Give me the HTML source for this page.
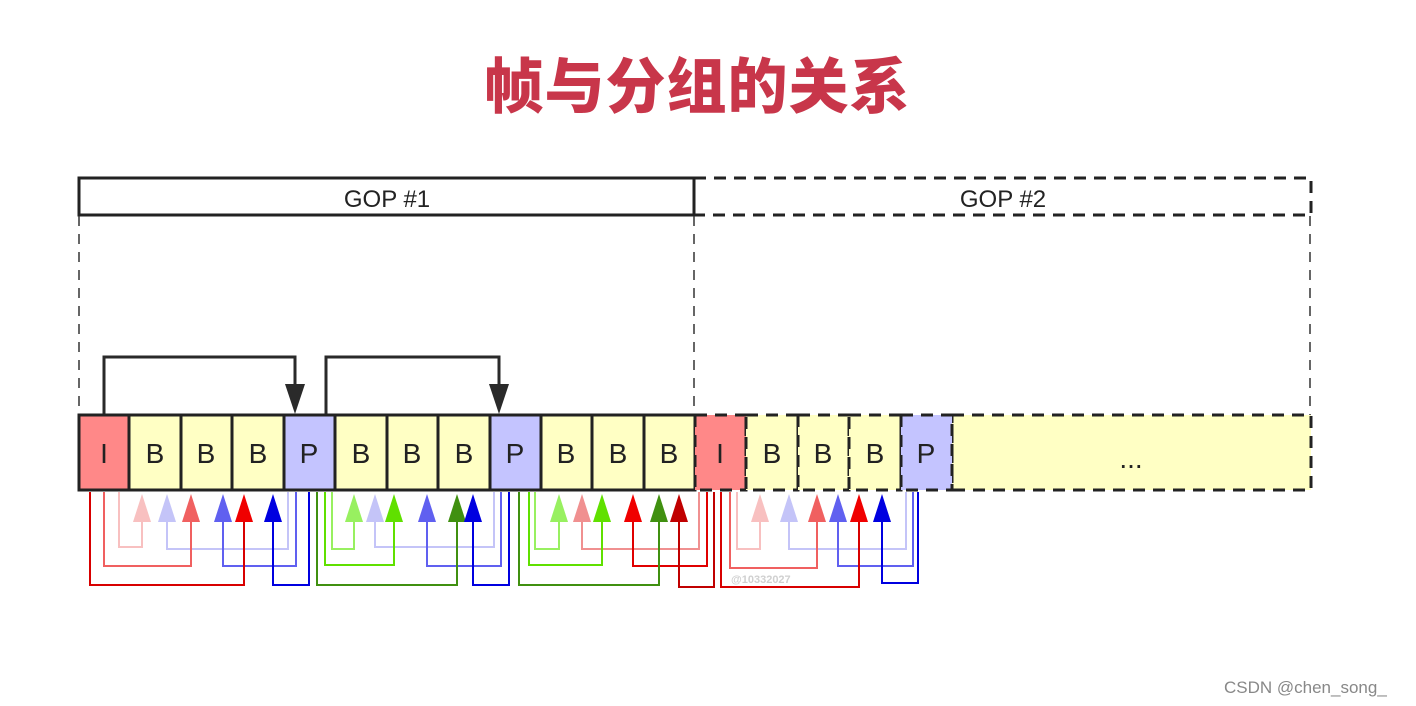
<!DOCTYPE html>
<html><head><meta charset="utf-8"><style>
html,body{margin:0;padding:0;background:#fff;}
body{width:1416px;height:706px;overflow:hidden;position:relative;}
</style></head><body>
<svg width="1416" height="706" viewBox="0 0 1416 706" xmlns="http://www.w3.org/2000/svg" style="position:absolute;left:0;top:0">
<text x="697" y="108" text-anchor="middle" font-family="'Liberation Sans','Noto Sans CJK SC',sans-serif" font-weight="900" font-size="60" fill="#c8364a" letter-spacing="1">帧与分组的关系</text>

<!-- GOP boxes -->
<rect x="79" y="178" width="615" height="37" fill="#fff" stroke="#222" stroke-width="3"/>
<text x="387" y="207" text-anchor="middle" font-family="'Liberation Sans',sans-serif" font-size="24" fill="#222">GOP #1</text>
<rect x="694" y="178" width="617" height="37" fill="none" stroke="#222" stroke-width="3" stroke-dasharray="12,8"/>
<text x="1003" y="207" text-anchor="middle" font-family="'Liberation Sans',sans-serif" font-size="24" fill="#222">GOP #2</text>
<g stroke="#333" stroke-width="1.5" stroke-dasharray="10,8">
<line x1="79" y1="216" x2="79" y2="415"/>
<line x1="694" y1="216" x2="694" y2="415"/>
<line x1="1310" y1="216" x2="1310" y2="415"/>
</g>

<!-- top arrows -->
<g stroke="#2a2a2a" stroke-width="3" fill="none">
<polyline points="104,415 104,357 295,357 295,388"/>
<polyline points="326,415 326,357 499,357 499,388"/>
</g>
<polygon points="285,384 305,384 295,414" fill="#2a2a2a"/>
<polygon points="489,384 509,384 499,414" fill="#2a2a2a"/>

<!-- frames -->
<g font-family="'Liberation Sans',sans-serif" font-size="28" text-anchor="middle" fill="#222">
<rect x="952" y="415" width="359" height="75" fill="#ffffc4" stroke="#222" stroke-width="3" stroke-dasharray="12,8"/>
<text x="1131" y="468">...</text>
</g>
<g id="fr" font-family="'Liberation Sans',sans-serif" font-size="28" text-anchor="middle" fill="#222" stroke-width="3">
<rect x="79" y="415" width="50" height="75" fill="#ff8888" stroke="#222"/>
<rect x="129" y="415" width="52" height="75" fill="#ffffc4" stroke="#222"/>
<rect x="181" y="415" width="51" height="75" fill="#ffffc4" stroke="#222"/>
<rect x="232" y="415" width="52" height="75" fill="#ffffc4" stroke="#222"/>
<rect x="284" y="415" width="51" height="75" fill="#c4c4ff" stroke="#222"/>
<rect x="335" y="415" width="52" height="75" fill="#ffffc4" stroke="#222"/>
<rect x="387" y="415" width="51" height="75" fill="#ffffc4" stroke="#222"/>
<rect x="438" y="415" width="52" height="75" fill="#ffffc4" stroke="#222"/>
<rect x="490" y="415" width="51" height="75" fill="#c4c4ff" stroke="#222"/>
<rect x="541" y="415" width="51" height="75" fill="#ffffc4" stroke="#222"/>
<rect x="592" y="415" width="52" height="75" fill="#ffffc4" stroke="#222"/>
<rect x="644" y="415" width="51" height="75" fill="#ffffc4" stroke="#222"/>
<rect x="695" y="415" width="51" height="75" fill="#ff8888" stroke="#222" stroke-dasharray="12,8"/>
<rect x="746" y="415" width="52" height="75" fill="#ffffc4" stroke="#222" stroke-dasharray="12,8"/>
<rect x="798" y="415" width="51" height="75" fill="#ffffc4" stroke="#222" stroke-dasharray="12,8"/>
<rect x="849" y="415" width="52" height="75" fill="#ffffc4" stroke="#222" stroke-dasharray="12,8"/>
<rect x="901" y="415" width="51" height="75" fill="#c4c4ff" stroke="#222" stroke-dasharray="12,8"/>
<text x="104" y="463">I</text><text x="155" y="463">B</text><text x="206" y="463">B</text><text x="258" y="463">B</text>
<text x="309" y="463">P</text><text x="361" y="463">B</text><text x="412" y="463">B</text><text x="464" y="463">B</text>
<text x="515" y="463">P</text><text x="566" y="463">B</text><text x="618" y="463">B</text><text x="669" y="463">B</text>
<text x="720" y="463">I</text><text x="772" y="463">B</text><text x="823" y="463">B</text><text x="875" y="463">B</text>
<text x="926" y="463">P</text>
</g>

<!-- connectors -->
<g fill="none" stroke-width="2">
<polyline stroke="#f8c0c0" points="119,492 119,547 142,547 142,520"/>
<polyline stroke="#c4c4f8" points="288,492 288,549 167,549 167,520"/>
<polyline stroke="#f06060" points="104,492 104,566 191,566 191,520"/>
<polyline stroke="#6060f0" points="296,492 296,566 223,566 223,520"/>
<polyline stroke="#d80000" points="90,492 90,585 244,585 244,520"/>
<polyline stroke="#0000e0" points="309,492 309,585 273,585 273,520"/>
<polyline stroke="#98f060" points="332,492 332,549 354,549 354,520"/>
<polyline stroke="#c4c4f8" points="494,492 494,547 375,547 375,520"/>
<polyline stroke="#60e000" points="325,492 325,565 394,565 394,520"/>
<polyline stroke="#6060f0" points="501,492 501,566 427,566 427,520"/>
<polyline stroke="#409010" points="317,492 317,585 457,585 457,520"/>
<polyline stroke="#0000e0" points="509,492 509,585 473,585 473,520"/>
<polyline stroke="#98f060" points="535,492 535,549 559,549 559,520"/>
<polyline stroke="#f09090" points="699,492 699,549 582,549 582,520"/>
<polyline stroke="#60e000" points="529,492 529,565 602,565 602,520"/>
<polyline stroke="#e00000" points="707,492 707,566 633,566 633,520"/>
<polyline stroke="#409010" points="519,492 519,585 659,585 659,520"/>
<polyline stroke="#c00000" points="714,492 714,587 679,587 679,520"/>
<polyline stroke="#f8c0c0" points="737,492 737,549 760,549 760,520"/>
<polyline stroke="#c4c4f8" points="906,492 906,549 789,549 789,520"/>
<polyline stroke="#f06060" points="730,492 730,568 817,568 817,520"/>
<polyline stroke="#6060f0" points="913,492 913,566 838,566 838,520"/>
<polyline stroke="#d80000" points="721,492 721,587 859,587 859,520"/>
<polyline stroke="#0000e0" points="918,492 918,583 882,583 882,520"/>
</g>
<g>
<polygon fill="#f8c0c0" points="133,522 151,522 142,494"/>
<polygon fill="#c4c4f8" points="158,522 176,522 167,494"/>
<polygon fill="#f06060" points="182,522 200,522 191,494"/>
<polygon fill="#6060f0" points="214,522 232,522 223,494"/>
<polygon fill="#f00000" points="235,522 253,522 244,494"/>
<polygon fill="#0000e0" points="264,522 282,522 273,494"/>
<polygon fill="#98f060" points="345,522 363,522 354,494"/>
<polygon fill="#c4c4f8" points="366,522 384,522 375,494"/>
<polygon fill="#60e000" points="385,522 403,522 394,494"/>
<polygon fill="#6060f0" points="418,522 436,522 427,494"/>
<polygon fill="#409010" points="448,522 466,522 457,494"/>
<polygon fill="#0000e0" points="464,522 482,522 473,494"/>
<polygon fill="#98f060" points="550,522 568,522 559,494"/>
<polygon fill="#f09090" points="573,522 591,522 582,494"/>
<polygon fill="#60e000" points="593,522 611,522 602,494"/>
<polygon fill="#f00000" points="624,522 642,522 633,494"/>
<polygon fill="#409010" points="650,522 668,522 659,494"/>
<polygon fill="#c00000" points="670,522 688,522 679,494"/>
<polygon fill="#f8c0c0" points="751,522 769,522 760,494"/>
<polygon fill="#c4c4f8" points="780,522 798,522 789,494"/>
<polygon fill="#f06060" points="808,522 826,522 817,494"/>
<polygon fill="#6060f0" points="829,522 847,522 838,494"/>
<polygon fill="#f00000" points="850,522 868,522 859,494"/>
<polygon fill="#0000e0" points="873,522 891,522 882,494"/>
</g>
<text x="731" y="583" font-family="'Liberation Sans',sans-serif" font-size="11" font-weight="bold" fill="#d0d0d0">@10332027</text>
<text x="1224" y="693" font-family="'Liberation Sans',sans-serif" font-size="17" fill="#888">CSDN @chen_song_</text>
</svg>
</body></html>
